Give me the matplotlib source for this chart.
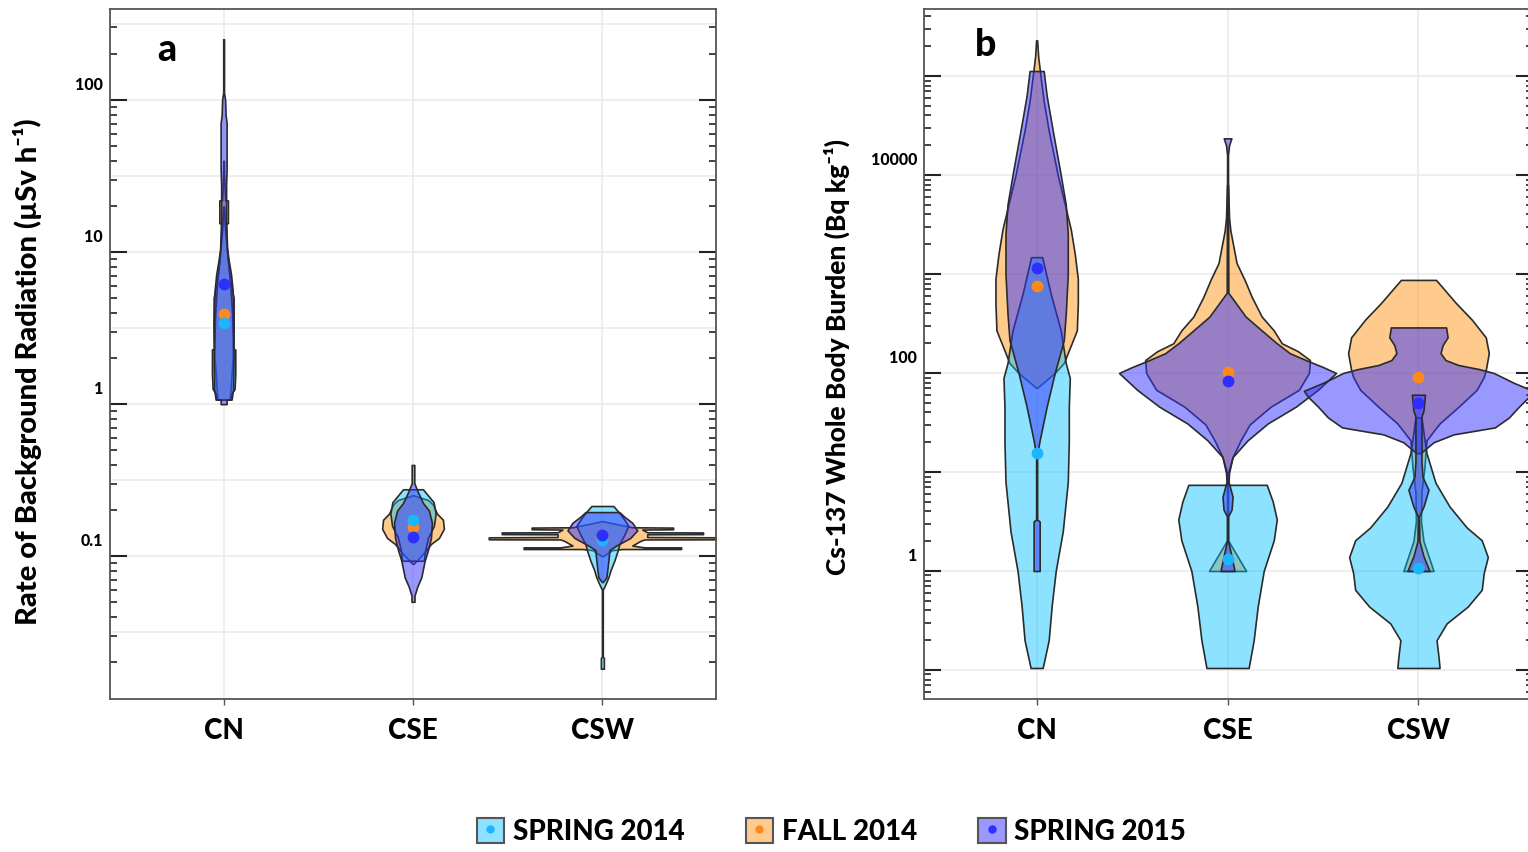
import numpy as np
import matplotlib
matplotlib.use("Agg")
import matplotlib.pyplot as plt
import matplotlib.transforms as mtransforms
from matplotlib.patches import Patch
from matplotlib.lines import Line2D
from matplotlib.ticker import FixedLocator, FixedFormatter, LogLocator, NullFormatter

plt.rcParams['font.family'] = ['Lato', 'DejaVu Sans']

groups = ['CN', 'CSE', 'CSW']
season_names = ['SPRING 2014', 'FALL 2014', 'SPRING 2015']

# medians (dots), one value per group
a_med_spring14 = [3.4, 0.174, 0.127]
a_med_fall14 = [3.9, 0.155, 0.132]
a_med_spring15 = [6.2, 0.133, 0.138]
b_med_spring14 = [15.5, 1.32, 1.07]
b_med_fall14 = [760, 102, 91]
b_med_spring15 = [1150, 83, 50]

# violin outlines: (log10 value, half width in density units)
a_cn_fall14 = [(0.03, 6), (0.10, 7), (0.30, 9), (0.50, 10), (0.70, 10), (0.80, 7), (0.95, 4),
               (1.10, 2.5), (1.19, 2.5), (1.19, 4.3), (1.34, 4.3), (1.34, 1.5), (1.50, 0.5), (1.60, 0.3)]
a_cn_spring14 = [(0.03, 7), (0.07, 8), (0.10, 11), (0.20, 11.7), (0.36, 11.7), (0.36, 9.5),
                 (0.60, 8.5), (0.80, 6.5), (1.00, 3.5), (1.15, 1.5), (1.30, 0.3)]
a_cn_spring15 = [(0.00, 3), (0.03, 3), (0.03, 8), (0.10, 9.5), (0.30, 10), (0.55, 10), (0.75, 9),
                 (0.85, 7.5), (0.95, 5), (1.02, 3.5), (1.20, 2.5), (1.45, 2.5), (1.54, 3), (1.85, 3),
                 (1.90, 2), (2.00, 1.5), (2.05, 0.4), (2.40, 0.4)]

a_cse_fall14 = [(-1.05, 0.5), (-1.02, 5), (-0.97, 12), (-0.92, 18), (-0.88, 26), (-0.82, 31),
                (-0.76, 30), (-0.72, 24), (-0.66, 20), (-0.63, 15), (-0.60, 0.5)]
a_cse_spring14 = [(-1.03, 11), (-0.97, 12), (-0.88, 15), (-0.80, 21), (-0.72, 22.7),
                  (-0.645, 20.7), (-0.56, 10)]
a_cse_spring15 = [(-1.30, 1.5), (-1.26, 1.5), (-1.20, 4.3), (-1.14, 8.3), (-1.03, 11.7),
                  (-0.96, 15), (-0.88, 18), (-0.78, 19), (-0.70, 16), (-0.65, 10), (-0.58, 5),
                  (-0.52, 1.3), (-0.40, 1.3)]

a_csw_fall14 = [(-1.00, 0.5), (-0.96, 10), (-0.953, 20), (-0.953, 79), (-0.942, 79), (-0.942, 42),
                (-0.93, 30), (-0.90, 38), (-0.89, 42), (-0.889, 114), (-0.876, 114), (-0.874, 45),
                (-0.856, 45), (-0.855, 101), (-0.844, 101), (-0.843, 45), (-0.825, 40),
                (-0.823, 71), (-0.812, 71), (-0.81, 30), (-0.79, 15), (-0.77, 0.5)]
a_csw_spring14 = [(-1.74, 1.5), (-1.67, 1.5), (-1.66, 0.4), (-1.22, 0.4), (-1.20, 2), (-1.14, 6),
                  (-1.09, 8.3), (-1.03, 12), (-0.96, 15.5), (-0.92, 17), (-0.86, 22), (-0.80, 26),
                  (-0.74, 20), (-0.70, 15), (-0.67, 11)]
a_csw_spring15 = [(-1.17, 0.5), (-1.14, 4), (-1.09, 5), (-1.00, 6.5), (-0.96, 7), (-0.93, 14),
                  (-0.88, 28), (-0.83, 35), (-0.78, 30), (-0.74, 22), (-0.71, 17)]

b_cn_fall14 = [(1.85, 0.5), (2.00, 18), (2.10, 27), (2.43, 40), (2.70, 41), (2.95, 41), (3.20, 38),
               (3.45, 34), (3.62, 30), (4.00, 21), (4.45, 12), (4.75, 7), (5.03, 3.5), (5.20, 1.5),
               (5.36, 0.5)]
b_cn_spring14 = [(-0.98, 6), (-0.70, 12), (-0.35, 15), (0.00, 19), (0.40, 26), (0.90, 31),
                 (1.30, 32), (1.65, 32), (1.95, 33), (2.10, 29), (2.43, 24), (2.80, 14), (3.17, 5.5)]
b_cn_spring15 = [(0.00, 3), (0.50, 3), (0.52, 0.5), (1.15, 0.5), (1.19, 0.8), (1.32, 3), (1.66, 10),
                 (2.00, 18), (2.33, 27), (2.60, 29), (3.00, 31), (3.40, 31), (3.70, 29), (4.00, 24),
                 (4.45, 16), (4.80, 10), (5.05, 7)]

b_cse_fall14 = [(0.00, 18.5), (0.31, 0.5), (0.99, 0.5), (1.15, 5), (1.32, 13), (1.48, 22),
                (1.66, 43), (1.83, 71), (2.00, 81), (2.13, 82), (2.22, 70), (2.30, 54), (2.43, 46),
                (2.57, 34), (2.77, 24), (2.94, 17), (3.11, 9), (3.44, 2.8), (3.57, 1.5), (3.90, 0.5)]
b_cse_spring14 = [(-0.98, 21), (-0.70, 26), (-0.36, 30), (0.00, 36), (0.31, 46), (0.52, 49),
                  (0.70, 45), (0.87, 39)]
b_cse_spring15 = [(0.00, 7), (0.31, 0.5), (0.55, 0.5), (0.62, 4), (0.75, 5), (0.90, 1), (0.99, 1.5),
                  (1.15, 5), (1.32, 20), (1.49, 40), (1.66, 68), (1.83, 90), (2.00, 108), (2.06, 95),
                  (2.13, 78), (2.20, 62), (2.30, 49), (2.43, 34), (2.57, 18), (2.81, 0.8),
                  (4.20, 0.4), (4.30, 1.5), (4.37, 3.8)]

b_csw_fall14 = [(0.00, 15), (0.15, 10), (0.30, 5), (0.50, 2.5), (0.80, 3), (1.05, 6), (1.19, 7),
                (1.32, 8), (1.49, 21), (1.66, 40), (1.83, 58), (1.96, 65), (2.03, 67), (2.20, 70),
                (2.36, 67), (2.54, 53), (2.71, 37), (2.94, 17.5)]
b_csw_spring14 = [(-0.98, 21), (-0.87, 20), (-0.70, 18), (-0.53, 28), (-0.36, 49), (-0.19, 63),
                  (-0.02, 65), (0.14, 69), (0.31, 63), (0.44, 48), (0.65, 31), (0.89, 17),
                  (1.19, 8), (1.40, 5), (1.55, 3)]
b_csw_spring15 = [(1.19, 2), (1.30, 15), (1.38, 35), (1.45, 76), (1.55, 90), (1.66, 100),
                  (1.76, 110), (1.82, 114), (1.90, 95), (2.00, 75), (2.04, 60), (2.08, 40),
                  (2.13, 27), (2.20, 22), (2.28, 24), (2.36, 29), (2.46, 27.5)]
b_csw_spring15_core = [(0.00, 11), (0.15, 5), (0.30, 1), (0.55, 0.5), (0.65, 5), (0.82, 10),
                       (0.95, 4), (1.10, 3), (1.56, 3), (1.62, 5), (1.78, 6.5)]

WIDTH_UNIT = 190.0  # density units per category step

FILL_S14 = (0.0, 0.75, 1.0, 0.45)
FILL_F14 = (1.0, 0.55, 0.0, 0.45)
FILL_S15 = (0.2, 0.2, 1.0, 0.5)
DOT_S14 = '#1cb5ff'
DOT_F14 = '#ff8a1c'
DOT_S15 = '#2e2eff'
EDGE = '#2b2b2b'
HEAVY = 'black'


def draw_violin(ax, pos, profile, fill, z):
    lv = np.array([p[0] for p in profile])
    hw = np.array([p[1] for p in profile]) / WIDTH_UNIT
    y = 10 ** lv
    ax.fill_betweenx(y, pos - hw, pos + hw, facecolor=fill, edgecolor=EDGE,
                     linewidth=1.2, zorder=z)


def style_axes(ax, ylim, major, labels, shift_px):
    ax.set_yscale('log')
    ax.set_ylim(*ylim)
    ax.set_xticks([1, 2, 3])
    ax.set_xticklabels(groups, fontsize=20, fontweight=HEAVY)
    ax.yaxis.set_major_locator(FixedLocator(major))
    ax.yaxis.set_major_formatter(FixedFormatter(labels))
    ax.yaxis.set_minor_locator(LogLocator(base=10, subs=np.arange(2, 10), numticks=20))
    ax.yaxis.set_minor_formatter(NullFormatter())
    ax.tick_params(axis='y', which='major', direction='in', length=12, width=1.5,
                   left=True, right=True, labelsize=11.5, pad=5, color='#222222')
    ax.tick_params(axis='y', which='minor', direction='in', length=5, width=1.2,
                   left=True, right=True, color='#222222')
    ax.tick_params(axis='x', which='major', direction='out', length=4, width=1.0,
                   color='#555555', pad=10)
    for sp in ax.spines.values():
        sp.set_color('#555555')
        sp.set_linewidth(1.3)
    ax.grid(axis='x', color='#ebebeb', linewidth=1.2)
    ax.set_axisbelow(True)
    off = mtransforms.ScaledTranslation(0, shift_px / 100, fig.dpi_scale_trans)
    for lbl in ax.get_yticklabels():
        lbl.set_fontweight(HEAVY)
        lbl.set_transform(lbl.get_transform() + off)


fig = plt.figure(figsize=(15.28, 8.52), dpi=100)
ax_a = fig.add_axes([110 / 1528, 153 / 852, 606 / 1528, 690 / 852])
ax_b = fig.add_axes([924 / 1528, 153 / 852, 609 / 1528, 690 / 852])

# panel a
style_axes(ax_a, (0.0115, 397), [0.1, 1, 10, 100], ['0.1', '1', '10', '100'], 17)
ax_a.set_xlim(0.4, 3.6)
for k in range(-4, 6):
    ax_a.axhline(10 ** (k / 2), color='#ebebeb', linewidth=1.2, zorder=0)

for i, prof in enumerate([a_cn_fall14, a_cse_fall14, a_csw_fall14]):
    draw_violin(ax_a, i + 1, prof, FILL_F14, 2)
for i, prof in enumerate([a_cn_spring14, a_cse_spring14, a_csw_spring14]):
    draw_violin(ax_a, i + 1, prof, FILL_S14, 3)
for i, prof in enumerate([a_cn_spring15, a_cse_spring15, a_csw_spring15]):
    draw_violin(ax_a, i + 1, prof, FILL_S15, 4)

ax_a.plot([1, 2, 3], a_med_fall14, 'o', color=DOT_F14, ms=7.5, zorder=6)
ax_a.plot([1, 2, 3], a_med_spring14, 'o', color=DOT_S14, ms=7.5, zorder=6)
ax_a.plot([1, 2, 3], a_med_spring15, 'o', color=DOT_S15, ms=7.5, zorder=6)

ax_a.set_ylabel('Rate of Background Radiation (µSv h⁻¹)', fontsize=21, fontweight=HEAVY)
ax_a.yaxis.set_label_coords(-0.112, 0.474)
ax_a.text(0.094, 0.94, 'a', transform=ax_a.transAxes, fontsize=27, fontweight=HEAVY,
          ha='center', va='center')

# panel b
style_axes(ax_b, (0.0509, 475000), [0.1, 1, 10, 100, 1e3, 1e4, 1e5],
           ['', '1', '', '100', '', '10000', ''], 16)
ax_b.set_xlim(0.41, 3.6)
ax_b.grid(axis='y', which='major', color='#ebebeb', linewidth=1.2)

for i, prof in enumerate([b_cn_fall14, b_cse_fall14, b_csw_fall14]):
    draw_violin(ax_b, i + 1, prof, FILL_F14, 2)
for i, prof in enumerate([b_cn_spring14, b_cse_spring14, b_csw_spring14]):
    draw_violin(ax_b, i + 1, prof, FILL_S14, 3)
for i, prof in enumerate([b_cn_spring15, b_cse_spring15, b_csw_spring15]):
    draw_violin(ax_b, i + 1, prof, FILL_S15, 4)
draw_violin(ax_b, 3, b_csw_spring15_core, FILL_S15, 4)

ax_b.plot([1, 2, 3], b_med_fall14, 'o', color=DOT_F14, ms=7.5, zorder=6)
ax_b.plot([1, 2, 3], b_med_spring14, 'o', color=DOT_S14, ms=7.5, zorder=6)
ax_b.plot([1, 2, 3], b_med_spring15, 'o', color=DOT_S15, ms=7.5, zorder=6)

ax_b.set_ylabel('Cs-137 Whole Body Burden (Bq kg⁻¹)', fontsize=19, fontweight=HEAVY)
ax_b.yaxis.set_label_coords(-0.122, 0.496)
ax_b.text(0.101, 0.948, 'b', transform=ax_b.transAxes, fontsize=27, fontweight=HEAVY,
          ha='center', va='center')

# legend
handles = []
for fill, dot in [(FILL_S14, DOT_S14), (FILL_F14, DOT_F14), (FILL_S15, DOT_S15)]:
    handles.append((Patch(facecolor=fill, edgecolor='#555555', linewidth=1.5),
                    Line2D([], [], marker='o', color=dot, ls='', ms=5)))
fig.legend(handles, season_names, loc='center', bbox_to_anchor=(0.544, 0.024), ncol=3,
           frameon=False, handlelength=1.0, handleheight=1.0, handletextpad=0.3,
           columnspacing=2.2, prop={'size': 20, 'weight': HEAVY})

fig.savefig('out.png', dpi=100)
